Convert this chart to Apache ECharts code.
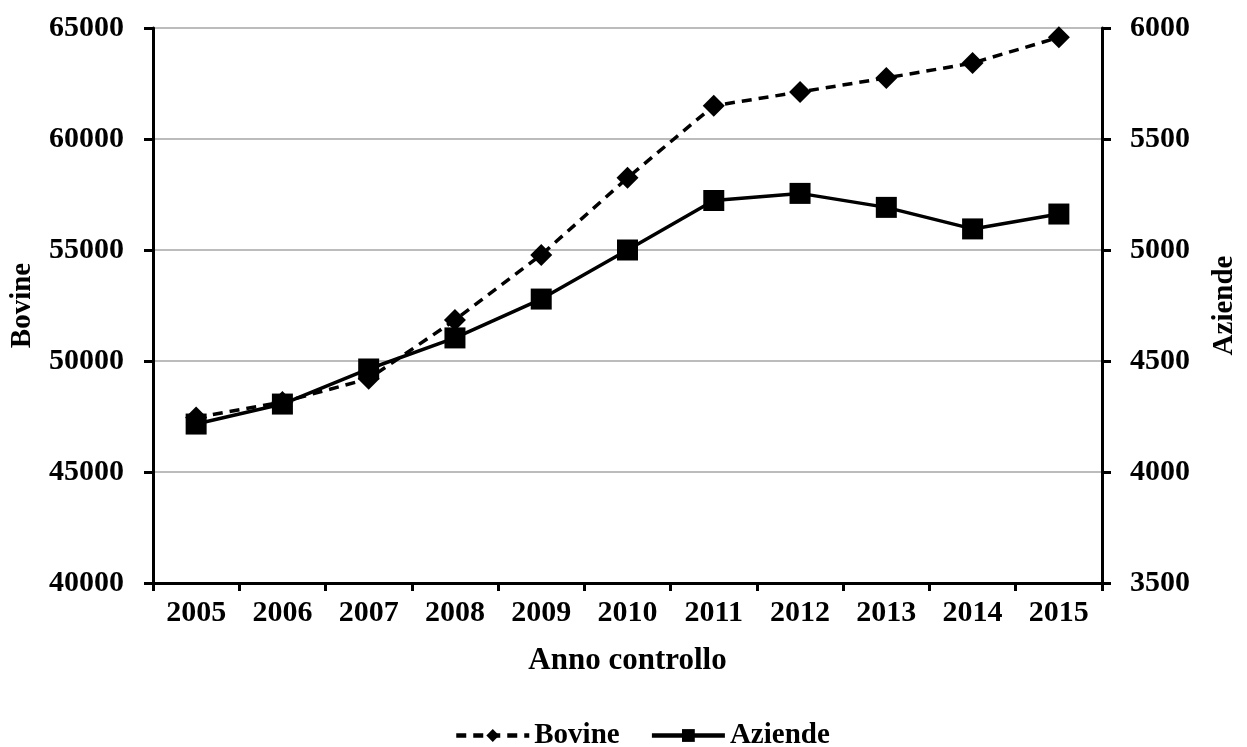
<!DOCTYPE html>
<html>
<head>
<meta charset="utf-8">
<script src="https://cdn.jsdelivr.net/npm/echarts@6/dist/echarts.min.js"></script>
<style>
html,body{margin:0;padding:0;background:#fff;}
#chart{width:1247px;height:747px;}
</style>
</head>
<body>
<div id="chart"></div>
<script>
const years = ['2005','2006','2007','2008','2009','2010','2011','2012','2013','2014','2015'];
const bovine = [47450, 48150, 49200, 51850, 54780, 58250, 61500, 62120, 62750, 63420, 64580];
const aziende = [4216, 4306, 4464, 4604, 4779, 5000, 5223, 5255, 5192, 5095, 5162];
const leftTicks = {min: 40000, max: 65000, interval: 5000};
const rightTicks = {min: 3500, max: 6000, interval: 500};

const FONT = "'Liberation Serif', 'Times New Roman', serif";
const txt = {fontFamily: FONT, fontWeight: 'bold', fontSize: 30, color: '#000'};
const plain = v => String(v);

const chart = echarts.init(document.getElementById('chart'));
chart.setOption({
  backgroundColor: '#fff',
  animation: false,
  grid: {left: 152, right: 133, top: 28, bottom: 164},
  legend: {
    top: 716,
    left: 449,
    itemWidth: 73,
    itemHeight: 16,
    itemGap: 30,
    textStyle: Object.assign({}, txt, {fontSize: 29}),
    data: [
      {name: 'Bovine', lineStyle: {width: 4.5, type: [10, 7]}},
      {name: 'Aziende', lineStyle: {width: 4.5, type: 'solid'}}
    ]
  },
  xAxis: {
    type: 'category',
    data: years,
    boundaryGap: true,
    name: 'Anno controllo',
    nameLocation: 'middle',
    nameGap: 62,
    nameTextStyle: Object.assign({}, txt, {fontSize: 31}),
    axisLine: {lineStyle: {color: '#000', width: 3}},
    axisTick: {show: true, length: 8, lineStyle: {color: '#000', width: 3}},
    axisLabel: Object.assign({}, txt, {margin: 15, interval: 0}),
    splitLine: {show: false}
  },
  yAxis: [
    {
      type: 'value',
      position: 'left',
      min: leftTicks.min, max: leftTicks.max, interval: leftTicks.interval,
      name: 'Bovine',
      nameLocation: 'middle',
      nameGap: 116,
      nameTextStyle: Object.assign({}, txt, {fontSize: 29}),
      axisLine: {show: true, lineStyle: {color: '#000', width: 3}},
      axisTick: {show: true, length: 9, lineStyle: {color: '#000', width: 3}},
      axisLabel: Object.assign({}, txt, {margin: 29, formatter: plain}),
      splitLine: {show: true, lineStyle: {color: '#a6a6a6', width: 1.5}}
    },
    {
      type: 'value',
      position: 'right',
      min: rightTicks.min, max: rightTicks.max, interval: rightTicks.interval,
      name: 'Aziende',
      nameLocation: 'middle',
      nameGap: 108,
      nameTextStyle: Object.assign({}, txt, {fontSize: 29}),
      axisLine: {show: true, lineStyle: {color: '#000', width: 3}},
      axisTick: {show: true, length: 9, lineStyle: {color: '#000', width: 3}},
      axisLabel: Object.assign({}, txt, {margin: 28, formatter: plain}),
      splitLine: {show: false}
    }
  ],
  series: [
    {
      name: 'Bovine',
      type: 'line',
      yAxisIndex: 0,
      data: bovine,
      symbol: 'diamond',
      symbolSize: 22,
      itemStyle: {color: '#000'},
      lineStyle: {color: '#000', width: 3.5, type: [10, 7]},
      z: 3
    },
    {
      name: 'Aziende',
      type: 'line',
      yAxisIndex: 1,
      data: aziende,
      symbol: 'rect',
      symbolSize: 21,
      itemStyle: {color: '#000'},
      lineStyle: {color: '#000', width: 3.5, type: 'solid'},
      z: 4
    }
  ]
});
</script>
</body>
</html>
